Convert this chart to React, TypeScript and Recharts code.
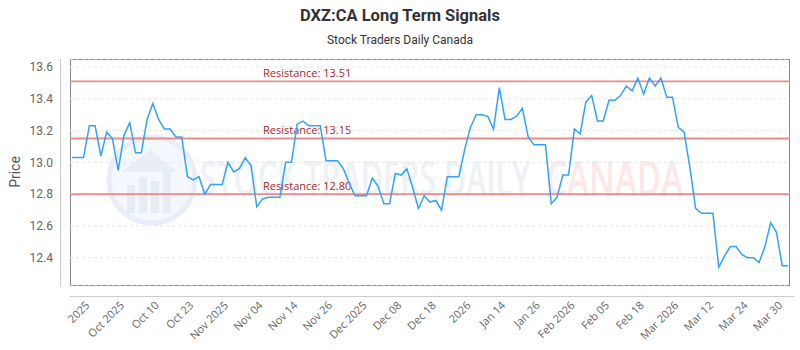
import React from 'react';
import { LineChart, Line, XAxis, YAxis, CartesianGrid, ReferenceLine } from 'recharts';

const prices: number[] = [
  13.03, 13.03, 13.03, 13.23, 13.23, 13.04, 13.19, 13.15, 12.95, 13.17,
  13.25, 13.06, 13.06, 13.27, 13.37, 13.27, 13.21, 13.21, 13.16, 13.16,
  12.91, 12.89, 12.91, 12.80, 12.86, 12.86, 12.86, 13.00, 12.94, 12.96,
  13.03, 12.98, 12.72, 12.77, 12.78, 12.78, 12.78, 13.00, 13.00, 13.24,
  13.26, 13.23, 13.23, 13.23, 13.01, 13.01, 13.01, 12.96, 12.87, 12.79,
  12.79, 12.79, 12.90, 12.85, 12.74, 12.74, 12.93, 12.92, 12.96, 12.84,
  12.71, 12.79, 12.75, 12.76, 12.70, 12.91, 12.91, 12.91, 13.08, 13.22,
  13.30, 13.30, 13.29, 13.21, 13.47, 13.27, 13.27, 13.29, 13.34, 13.16,
  13.11, 13.11, 13.11, 12.74, 12.78, 12.92, 12.92, 13.21, 13.18, 13.38,
  13.42, 13.26, 13.26, 13.39, 13.39, 13.42, 13.48, 13.45, 13.53, 13.43,
  13.53, 13.48, 13.53, 13.41, 13.41, 13.22, 13.19, 12.97, 12.71, 12.68,
  12.68, 12.68, 12.34, 12.41, 12.47, 12.47, 12.42, 12.40, 12.40, 12.37,
  12.47, 12.62, 12.56, 12.35, 12.35,
];

const tickPositions: number[] = [3, 9, 15, 21, 27, 33, 39, 45, 51, 57, 63, 69, 75, 81, 87, 93, 99, 105, 111, 117, 123];
const tickLabels: string[] = [
  '2025', 'Oct 2025', 'Oct 10', 'Oct 23', 'Nov 2025', 'Nov 04', 'Nov 14', 'Nov 26', 'Dec 2025', 'Dec 08',
  'Dec 18', '2026', 'Jan 14', 'Jan 26', 'Feb 2026', 'Feb 05', 'Feb 18', 'Mar 2026', 'Mar 12', 'Mar 24', 'Mar 30',
];
const yTicks: number[] = [12.4, 12.6, 12.8, 13.0, 13.2, 13.4, 13.6];
const resistanceLevels: number[] = [13.51, 13.15, 12.8];

const data = prices.map((p, i) => ({ i, price: p }));

const W = 800;
const H = 350;
const PLOT_LEFT = 70;
const PLOT_RIGHT = 790;
const PLOT_TOP = 60;
const PLOT_BOTTOM = 286;

const XTick = (props: any) => {
  const { x, y, payload } = props;
  const idx = tickPositions.indexOf(payload.value);
  const label = idx >= 0 ? tickLabels[idx] : '';
  return (
    <g transform={`translate(${x + 1},${y + 20})`}>
      <text x={0} y={0} textAnchor="end" transform="rotate(-45)" fill="#666" fontSize={11} fontFamily="'Open Sans', sans-serif">
        {label}
      </text>
    </g>
  );
};

const YTick = (props: any) => {
  const { x, y, payload } = props;
  return (
    <text x={x - 17} y={y} dy="0.35em" textAnchor="end" fill="#666" fontSize={12} fontFamily="Roboto, sans-serif">
      {Number(payload.value).toFixed(1)}
    </text>
  );
};

const ResLabel = (props: any) => {
  const { viewBox, text } = props;
  if (!viewBox) return null;
  return (
    <text x={viewBox.x + 193} y={viewBox.y - 4.5} fill="#a8282d" fontSize={11} fontFamily="'Open Sans', sans-serif">
      {text}
    </text>
  );
};

export default function App() {
  return (
    <div style={{ position: 'absolute', left: 0, top: 0, width: W, height: H, background: '#fff' }}>
      <svg width={W} height={H} style={{ position: 'absolute', left: 0, top: 0 }}>
        <text x={400} y={21} textAnchor="middle" fontSize={16.5} fontWeight="bold" fill="#333" fontFamily="Roboto, sans-serif">
          DXZ:CA Long Term Signals
        </text>
        <text x={400} y={44} textAnchor="middle" fontSize={12} fill="#333" fontFamily="Roboto, sans-serif">
          Stock Traders Daily Canada
        </text>
        <text transform="translate(20,172) rotate(-90)" textAnchor="middle" fontSize={14} fill="#555" fontFamily="Roboto, sans-serif">
          Price
        </text>
        {/* watermark */}
        <g>
          <circle cx={152} cy={180} r={43} fill="#f4f7fb" stroke="#e9eef6" strokeWidth={5} />
          <path d="M122 172 L150 150 L178 172 Z" fill="#e8edf6" />
          <rect x={127} y={185} width={8} height={28} fill="#e6ecf5" />
          <rect x={139} y={177} width={8} height={36} fill="#e6ecf5" />
          <rect x={151} y={181} width={8} height={32} fill="#e6ecf5" />
          <rect x={163} y={172} width={8} height={41} fill="#e6ecf5" />
          <text x={200} y={196} fontSize={48} fontWeight={600} fill="#eef1f6" fontFamily="'Open Sans', sans-serif" textLength={330} lengthAdjust="spacingAndGlyphs">
            STOCK TRADERS DAILY
          </text>
          <text x={546} y={196} fontSize={48} fontWeight={600} fill="#fde8e8" fontFamily="'Open Sans', sans-serif" textLength={137} lengthAdjust="spacingAndGlyphs">
            CANADA
          </text>
        </g>
        <rect x={PLOT_LEFT + 0.5} y={PLOT_TOP - 0.5} width={PLOT_RIGHT - PLOT_LEFT - 1} height={PLOT_BOTTOM - PLOT_TOP} fill="none" stroke="#888" strokeWidth={1} />
        <line x1={60.5} y1={PLOT_TOP - 1} x2={60.5} y2={PLOT_BOTTOM + 1} stroke="#ccc" strokeWidth={1} />
        <line x1={PLOT_LEFT} y1={296.5} x2={PLOT_RIGHT + 4} y2={296.5} stroke="#ccc" strokeWidth={1} />
      </svg>
      <div style={{ position: 'absolute', left: 0, top: 0 }}>
        <LineChart width={W} height={H} data={data} margin={{ top: PLOT_TOP, right: W - PLOT_RIGHT, bottom: 0, left: 0 }}>
          <CartesianGrid vertical={false} strokeDasharray="3 3" stroke="#e6e6e6" />
          <XAxis
            dataKey="i"
            type="number"
            domain={[0, prices.length - 1]}
            ticks={tickPositions}
            interval={0}
            padding={{ left: 2, right: 2 }}
            axisLine={false}
            tickLine={false}
            tickSize={0}
            tickMargin={0}
            height={H - PLOT_BOTTOM}
            tick={<XTick />}
          />
          <YAxis
            type="number"
            domain={[12.222, 13.644]}
            ticks={yTicks}
            interval={0}
            width={PLOT_LEFT}
            axisLine={false}
            tickLine={false}
            tickSize={0}
            tickMargin={0}
            tick={<YTick />}
          />
          {resistanceLevels.map((lvl) => (
            <ReferenceLine
              key={lvl}
              y={lvl}
              stroke="#ea8a8d"
              strokeWidth={1.8}
              label={<ResLabel text={`Resistance: ${lvl.toFixed(2)}`} />}
            />
          ))}
          <Line
            type="linear"
            dataKey="price"
            stroke="#33a3f4"
            strokeWidth={1.5}
            dot={false}
            isAnimationActive={false}
          />
        </LineChart>
      </div>
    </div>
  );
}
